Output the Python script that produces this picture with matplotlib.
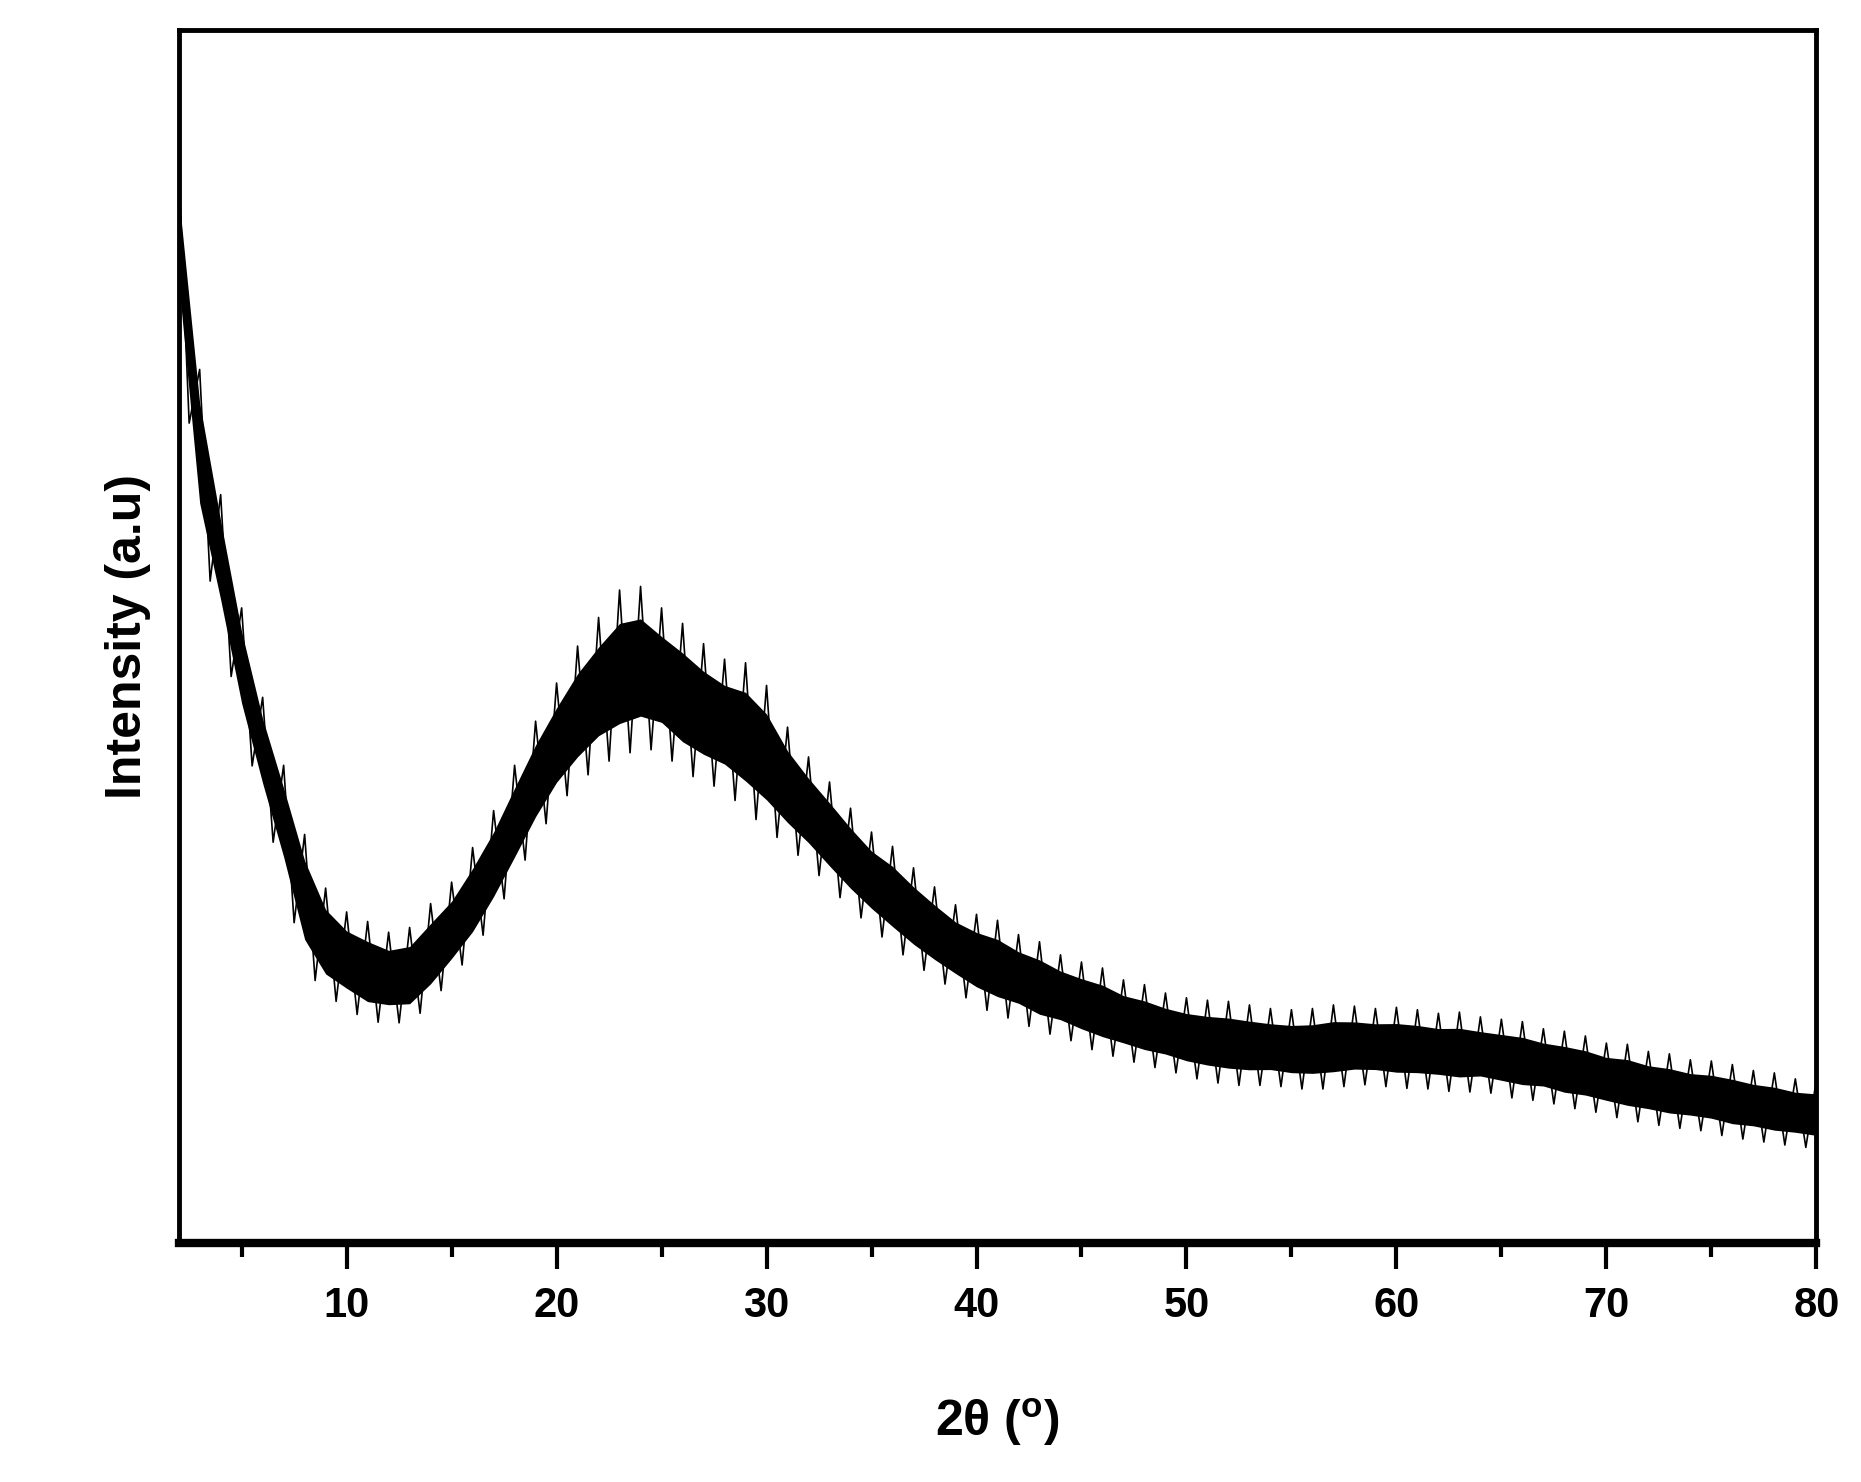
import numpy as np
import matplotlib
matplotlib.use("Agg")
import matplotlib.pyplot as plt
from matplotlib.ticker import MultipleLocator

plt.rcParams['font.family'] = ['Liberation Sans', 'DejaVu Sans']

two_theta = list(range(2, 81))
intensity = [843,663,573,483,413,353,288,253,238,228,
             223,225,243,263,288,318,353,388,418,443,
             463,478,483,473,458,445,435,425,408,383,
             363,343,323,305,291,275,261,248,238,231,
             223,215,208,201,195,188,183,178,173,170,
             168,166,165,163,163,165,166,165,164,163,
             161,160,159,156,153,150,146,143,138,135,
             131,128,125,123,119,116,113,110,108]
noise = [60,70,55,50,45,48,55,45,40,42,
         38,40,42,40,44,45,48,50,52,58,
         62,70,68,60,62,58,55,62,60,50,
         45,44,42,40,42,40,38,36,38,40,
         36,38,34,35,36,33,34,32,33,34,
         35,34,32,33,34,35,33,32,34,33,
         32,34,31,32,33,30,32,31,30,32,
         30,31,29,30,31,29,30,28,29]

x = np.array(two_theta, float)
y = np.array(intensity, float)
w = np.array(noise, float)

fig = plt.figure(figsize=(18.61, 14.82), dpi=100)
ax = fig.add_axes([0.096, 0.161, 0.880, 0.819])
ax.fill_between(x, y - w * 0.6, y + w * 0.6, color='black', lw=0)
# zig-zag trace between upper and lower excursions
zx = np.empty(2 * len(x) - 1); zy = np.empty_like(zx)
zx[0::2] = x; zy[0::2] = y + w
zx[1::2] = (x[:-1] + x[1:]) / 2; zy[1::2] = (y[:-1] + y[1:]) / 2 - (w[:-1] + w[1:]) / 2
ax.plot(zx, zy, color='black', lw=1.2)
ax.plot(x, y, color='black', lw=3)

ax.set_xlim(2, 80)
ax.set_ylim(0, 1018)
ax.set_yticks([])
ax.xaxis.set_major_locator(MultipleLocator(10))
ax.xaxis.set_minor_locator(MultipleLocator(5))
ax.tick_params(axis='x', which='major', direction='out', length=19, width=3, labelsize=30, pad=12)
ax.tick_params(axis='x', which='minor', direction='out', length=10, width=3)
for t in ax.get_xticklabels():
    t.set_fontweight('bold')
for s in ['left', 'right', 'top']:
    ax.spines[s].set_linewidth(3.5)
ax.spines['bottom'].set_linewidth(6)
ax.set_xticks([10, 20, 30, 40, 50, 60, 70, 80])
ax.set_xlabel(r'2θ ($^{\mathregular{o}}$)', fontsize=36, fontweight='bold', labelpad=50)
ax.set_ylabel('Intensity (a.u)', fontsize=36, fontweight='bold', labelpad=20)
fig.savefig('out.png', dpi=100)
